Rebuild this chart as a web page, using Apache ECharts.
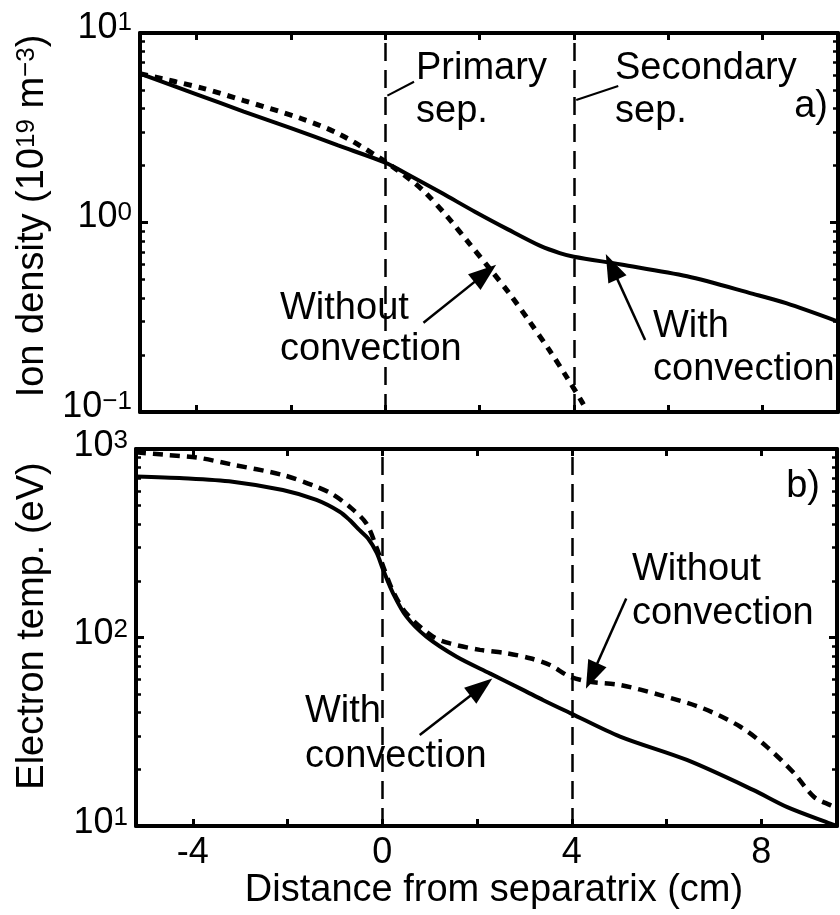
<!DOCTYPE html>
<html>
<head>
<meta charset="utf-8">
<script src="https://cdn.jsdelivr.net/npm/echarts@6/dist/echarts.min.js"></script>
<style>
html, body { margin: 0; padding: 0; background: #fff; }
#chart { width: 840px; height: 915px; }
</style>
</head>
<body>
<div id="chart"></div>
<script>
// distance from separatrix (cm)
var xMin = -5.2, xMax = 9.6;
var xTicks = [-4, -2, 0, 2, 4, 6, 8];
var xTickLabels = [-4, 0, 4, 8];
var sepX = [0, 4];

// a) ion density (1e19 m^-3)
var nWithX = [-5.2, -4, -3, -2, -1, 0, 0.5, 1.2, 1.9, 2.6, 3.3, 3.7, 4.0, 5.0, 6.4, 7.8, 8.5, 9.6];
var nWith = [6.1, 4.75, 3.85, 3.15, 2.55, 2.07, 1.78, 1.43, 1.14, 0.92, 0.75, 0.69, 0.66, 0.60, 0.52, 0.42, 0.375, 0.30];
var nWithoutX = [-5.2, -3.9, -3, -1.8, -1, -0.13, 0.55, 0.86, 1.32, 1.78, 2.21, 2.63, 3.06, 3.48, 3.84, 4.19, 4.3];
var nWithout = [6.1, 5.13, 4.4, 3.55, 2.95, 2.2, 1.67, 1.43, 1.07, 0.776, 0.573, 0.423, 0.30, 0.212, 0.154, 0.111, 0.099];

// b) electron temperature (eV)
var tWithX = [-5.2, -4.2, -3.16, -2.1, -1.39, -0.9, -0.69, -0.48, -0.3, -0.12, 0.02, 0.23, 0.51, 0.93, 1.57, 2.27, 2.98, 3.4, 3.98, 5.02, 6.43, 7.84, 8.55, 9.46, 9.6];
var tWith = [715, 700, 671, 606, 537, 465, 420, 371, 335, 282, 228, 171, 129, 101, 79, 64.5, 52.6, 46.5, 39.6, 29.8, 22.4, 15.5, 12.6, 10.3, 10.0];
var tWithoutX = [-5.2, -4.55, -3.9, -3.2, -2.1, -1.39, -1.05, -0.69, -0.34, -0.12, 0.02, 0.23, 0.51, 1.07, 1.43, 2.06, 2.63, 3.12, 3.54, 3.96, 4.39, 5.02, 5.87, 6.78, 7.56, 8.12, 8.69, 9.11, 9.46, 9.6];
var tWithout = [960, 930, 900, 830, 728, 631, 575, 494, 404, 300, 238, 175, 134, 101, 93, 86, 82.5, 77.6, 71.5, 62, 58.2, 56, 49.5, 42, 33.6, 26.3, 19.1, 14.3, 12.9, 12.5];

// annotation arrows / leader lines, [from, to] in data units
var leadersTop = [[[0.045, 4.67], [0.61, 5.53]], [[4.05, 4.43], [4.94, 5.25]]];
var arrowsTop = [[[0.81, 0.296], [2.12, 0.539]], [[5.51, 0.24], [4.80, 0.585]]];
var arrowsBottom = [[[5.15, 161], [4.42, 62.5]], [[0.79, 30.4], [2.09, 54.5]]];

var FONT = '"Liberation Sans", Arial, Helvetica, sans-serif';

function zip(xs, ys) {
    return xs.map(function (x, i) { return [x, ys[i]]; });
}

function pow10Label(v) {
    var e = Math.round(Math.log10(v));
    return '{b|10}{s|' + (e < 0 ? '\u2212' + (-e) : e) + '}';
}

function vLines() {
    return sepX.map(function (x) { return { xAxis: x }; });
}

function segs(list, arrow) {
    return list.map(function (s) {
        return [
            { coord: s[0], symbol: 'none', lineStyle: { type: 'solid', width: arrow ? 2.5 : 2, color: '#000' } },
            { coord: s[1], symbol: arrow ? 'triangle' : 'none', symbolSize: [20, 28] }
        ];
    });
}

function xAx(grid, pos, labels) {
    return {
        type: 'value', gridIndex: grid, position: pos, min: xMin, max: xMax,
        axisLine: { show: true, onZero: false, lineStyle: { color: '#000', width: 4 } },
        axisTick: { show: true, inside: true, length: 7, customValues: xTicks, lineStyle: { color: '#000', width: 3 } },
        axisLabel: labels ? { show: true, customValues: xTickLabels, fontSize: 36, fontFamily: FONT, color: '#000', margin: 9 } : { show: false },
        splitLine: { show: false }
    };
}

function yAx(grid, pos, lo, hi, labels, lift) {
    return {
        type: 'log', logBase: 10, gridIndex: grid, position: pos, min: lo, max: hi,
        axisLine: { show: true, onZero: false, lineStyle: { color: '#000', width: 4 } },
        axisTick: { show: true, inside: true, length: 8, lineStyle: { color: '#000', width: 3 } },
        minorTick: { show: true, splitNumber: 9, length: 5, lineStyle: { color: '#000', width: 2.5 } },
        axisLabel: labels ? {
            show: true, formatter: pow10Label, margin: 8, padding: [0, 0, lift, 0],
            rich: {
                b: { fontSize: 36, fontFamily: FONT, color: '#000' },
                s: { fontSize: 26, fontFamily: FONT, color: '#000', verticalAlign: 'top', lineHeight: 20 }
            }
        } : { show: false },
        splitLine: { show: false },
        minorSplitLine: { show: false }
    };
}

function txt(x, y, s, lh, align) {
    return {
        type: 'text', x: x, y: y, silent: true,
        style: {
            text: s, fill: '#000', fontSize: 38, fontFamily: FONT, lineHeight: lh,
            textAlign: align || 'left', textVerticalAlign: 'top', verticalAlign: 'top'
        }
    };
}

var yTop = yAx(0, 'left', 0.1, 10, true, 10);
yTop.name = 'Ion density (10{s|19} m{s|\u22123})';
yTop.nameLocation = 'middle';
yTop.nameGap = 88;
yTop.nameTextStyle = {
    fontSize: 38, fontFamily: FONT, color: '#000', padding: [0, 0, 0, 13],
    rich: { s: { fontSize: 26, fontFamily: FONT, color: '#000', verticalAlign: 'top', lineHeight: 22 } }
};

var yBot = yAx(1, 'left', 10, 1000, true, 6);
yBot.name = 'Electron temp. (eV)';
yBot.nameLocation = 'middle';
yBot.nameGap = 84;
yBot.nameTextStyle = { fontSize: 38, fontFamily: FONT, color: '#000', padding: [0, 0, 0, 23] };

var xBot = xAx(1, 'bottom', true);
xBot.name = 'Distance from separatrix (cm)';
xBot.nameLocation = 'middle';
xBot.nameGap = 44;
xBot.nameTextStyle = { fontSize: 38, fontFamily: FONT, color: '#000', padding: [0, 0, 0, 15] };

var sepLine = { type: [18, 9], width: 2.5, color: '#000' };

var option = {
    animation: false,
    backgroundColor: '#fff',
    grid: [
        { left: 140, right: 2, top: 33, height: 379 },
        { left: 136, right: 3, top: 449, height: 377 }
    ],
    xAxis: [xAx(0, 'bottom', false), xAx(0, 'top', false), xBot, xAx(1, 'top', false)],
    yAxis: [yTop, yAx(0, 'right', 0.1, 10, false), yBot, yAx(1, 'right', 10, 1000, false)],
    series: [
        {
            name: 'With convection', type: 'line', xAxisIndex: 0, yAxisIndex: 0,
            data: zip(nWithX, nWith), smooth: 0.3, symbol: 'none',
            lineStyle: { color: '#000', width: 4 },
            markLine: { silent: true, symbol: 'none', label: { show: false }, lineStyle: sepLine, data: vLines() }
        },
        {
            name: 'Without convection', type: 'line', xAxisIndex: 0, yAxisIndex: 0,
            data: zip(nWithoutX, nWithout), smooth: 0.3, symbol: 'none',
            lineStyle: { color: '#000', width: 5, type: [8, 7] },
            markLine: { silent: true, label: { show: false }, data: segs(leadersTop, false).concat(segs(arrowsTop, true)) }
        },
        {
            name: 'With convection', type: 'line', xAxisIndex: 2, yAxisIndex: 2,
            data: zip(tWithX, tWith), smooth: 0.3, symbol: 'none',
            lineStyle: { color: '#000', width: 4 },
            markLine: { silent: true, symbol: 'none', label: { show: false }, lineStyle: sepLine, data: vLines() }
        },
        {
            name: 'Without convection', type: 'line', xAxisIndex: 2, yAxisIndex: 2,
            data: zip(tWithoutX, tWithout), smooth: 0.3, symbol: 'none',
            lineStyle: { color: '#000', width: 4.5, type: [10, 7] },
            markLine: { silent: true, label: { show: false }, data: segs(arrowsBottom, true) }
        }
    ],
    graphic: [
        txt(416, 47, 'Primary\nsep.', 43),
        txt(615, 47, 'Secondary\nsep.', 43),
        txt(828, 85, 'a)', 43, 'right'),
        txt(280, 288, 'Without\nconvection', 41),
        txt(653, 305, 'With\nconvection', 43),
        txt(820, 465, 'b)', 43, 'right'),
        txt(632, 548, 'Without\nconvection', 44),
        txt(305, 689, 'With\nconvection', 45)
    ]
};

var chart = echarts.init(document.getElementById('chart'), null, { renderer: 'canvas' });
chart.setOption(option);
</script>
</body>
</html>
